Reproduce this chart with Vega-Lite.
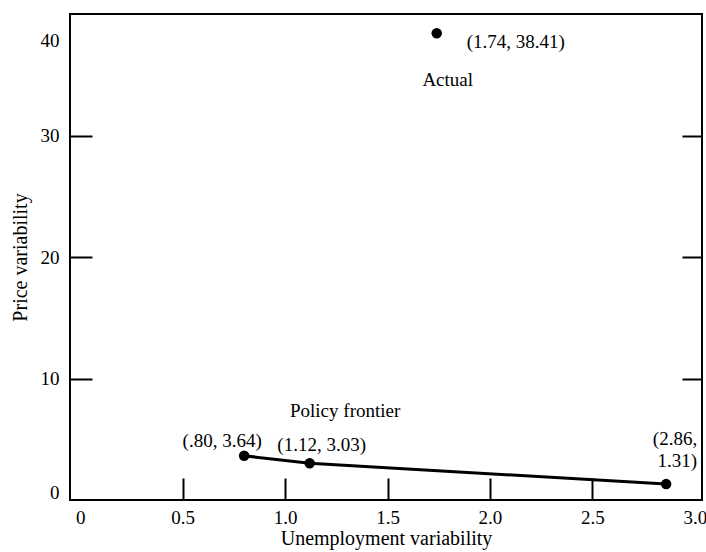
{
  "$schema": "https://vega.github.io/schema/vega-lite/v6.json",
  "width": 632,
  "height": 486,
  "autosize": {"type": "none"},
  "padding": {"left": 70, "top": 14, "right": 4, "bottom": 52},
  "background": "white",
  "config": {
    "view": {"stroke": "black", "strokeWidth": 2},
    "font": "Liberation Serif",
    "axis": {
      "grid": false,
      "domain": false,
      "labelFont": "Liberation Serif",
      "titleFont": "Liberation Serif",
      "labelFontSize": 19,
      "titleFontSize": 20,
      "labelColor": "black",
      "titleColor": "black",
      "titleFontWeight": "normal",
      "tickColor": "black",
      "tickWidth": 2
    },
    "text": {"font": "Liberation Serif", "fontSize": 19, "color": "black"}
  },
  "datasets": {
    "pts": [
      {"series": "Policy frontier", "u": 0.80, "p": 3.64, "label": "(.80, 3.64)"},
      {"series": "Policy frontier", "u": 1.12, "p": 3.03, "label": "(1.12, 3.03)"},
      {"series": "Policy frontier", "u": 2.86, "p": 1.31, "label": "(2.86,\n1.31)"},
      {"series": "Actual", "u": 1.74, "p": 38.41, "label": "(1.74, 38.41)"}
    ]
  },
  "data": {"name": "pts"},
  "resolve": {"axis": {"y": "independent"}},
  "layer": [
    {
      "transform": [{"filter": "datum.series == 'Policy frontier'"}],
      "mark": {"type": "line", "color": "black", "strokeWidth": 3},
      "encoding": {
        "x": {
          "field": "u", "type": "quantitative",
          "scale": {"domain": [-0.05, 3.035], "nice": false, "zero": false},
          "axis": {
            "values": [0, 0.5, 1, 1.5, 2, 2.5, 3],
            "labelExpr": "datum.value == 0 ? '0' : format(datum.value, '.1f')",
            "tickSize": -22,
            "labelPadding": 30,
            "tickColor": {"condition": {"test": "datum.value == 0 || datum.value == 3", "value": "transparent"}, "value": "black"},
            "title": "Unemployment variability",
            "titlePadding": 1
          }
        },
        "y": {
          "field": "p", "type": "quantitative",
          "scale": {"domain": [0, 40], "nice": false},
          "axis": {
            "orient": "left",
            "values": [0, 10, 20, 30, 40],
            "tickSize": -22,
            "labelPadding": 33,
            "labelOffset": {"condition": [{"test": "datum.value == 40", "value": 26}, {"test": "datum.value == 0", "value": -8}], "value": 0},
            "tickColor": {"condition": {"test": "datum.value == 0 || datum.value == 40", "value": "transparent"}, "value": "black"},
            "title": "Price variability",
            "titlePadding": 10
          }
        }
      }
    },
    {
      "mark": {"type": "point", "filled": true, "color": "black", "size": 110, "opacity": 1},
      "encoding": {
        "x": {"field": "u", "type": "quantitative"},
        "y": {
          "field": "p", "type": "quantitative",
          "axis": {
            "orient": "right",
            "values": [10, 20, 30],
            "labels": false,
            "tickSize": -20,
            "title": null
          }
        }
      }
    },
    {
      "transform": [{"filter": "datum.u == 0.8"}],
      "mark": {"type": "text", "align": "center", "baseline": "middle", "dx": -22, "dy": -15},
      "encoding": {
        "x": {"field": "u", "type": "quantitative"},
        "y": {"field": "p", "type": "quantitative", "axis": null},
        "text": {"field": "label"}
      }
    },
    {
      "transform": [{"filter": "datum.u == 1.12"}],
      "mark": {"type": "text", "align": "center", "baseline": "middle", "dx": 12, "dy": -18},
      "encoding": {
        "x": {"field": "u", "type": "quantitative"},
        "y": {"field": "p", "type": "quantitative", "axis": null},
        "text": {"field": "label"}
      }
    },
    {
      "transform": [{"filter": "datum.u == 2.86"}],
      "mark": {"type": "text", "align": "right", "baseline": "bottom", "dx": 31, "dy": -35, "lineBreak": "\n", "lineHeight": 22},
      "encoding": {
        "x": {"field": "u", "type": "quantitative"},
        "y": {"field": "p", "type": "quantitative", "axis": null},
        "text": {"field": "label"}
      }
    },
    {
      "transform": [{"filter": "datum.u == 0.8"}],
      "mark": {"type": "text", "align": "center", "baseline": "middle", "dx": 101, "dy": -45},
      "encoding": {
        "x": {"field": "u", "type": "quantitative"},
        "y": {"field": "p", "type": "quantitative", "axis": null},
        "text": {"field": "series"}
      }
    },
    {
      "transform": [{"filter": "datum.series == 'Actual'"}],
      "mark": {"type": "text", "align": "left", "baseline": "middle", "dx": 30, "dy": 9},
      "encoding": {
        "x": {"field": "u", "type": "quantitative"},
        "y": {"field": "p", "type": "quantitative", "axis": null},
        "text": {"field": "label"}
      }
    },
    {
      "transform": [{"filter": "datum.series == 'Actual'"}],
      "mark": {"type": "text", "align": "center", "baseline": "middle", "dx": 11, "dy": 47},
      "encoding": {
        "x": {"field": "u", "type": "quantitative"},
        "y": {"field": "p", "type": "quantitative", "axis": null},
        "text": {"field": "series"}
      }
    }
  ]
}
